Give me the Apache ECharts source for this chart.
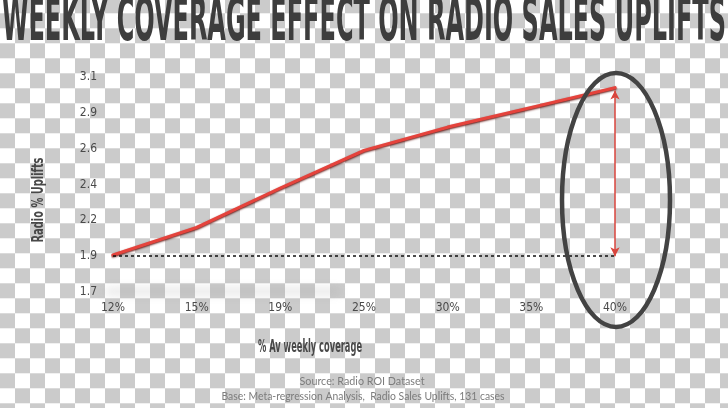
<!DOCTYPE html>
<html>
<head>
<meta charset="utf-8">
<script src="https://cdn.jsdelivr.net/npm/echarts@6/dist/echarts.min.js"></script>
<style>
html,body{margin:0;padding:0;width:728px;height:408px;overflow:hidden;}
body{
  background-color:#ffffff;
  background-image:repeating-conic-gradient(#ffffff 0 25%, #cbcbcb 0 50%);
  background-size:30px 30px;
  background-position:0px 13.3px;
}
#chart{width:728px;height:408px;}
</style>
</head>
<body>
<div id="chart"></div>
<script>
// ---- data ----
var titleText = 'WEEKLY COVERAGE EFFECT ON RADIO SALES UPLIFTS';
var xCategories = ['12%', '15%', '19%', '25%', '30%', '35%', '40%'];
var yTickLabels = [1.7, 1.9, 2.2, 2.4, 2.6, 2.9, 3.1];
var upliftValues = [1.91, 2.14, 2.38, 2.59, 2.78, 2.93, 3.04];
var baselineValue = 1.9;
var xAxisName = '% Av weekly coverage';
var yAxisName = 'Radio % Uplifts';
var sourceLine1 = 'Source: Radio ROI Dataset';
var sourceLine2 = 'Base: Meta-regression Analysis,  Radio Sales Uplifts, 131 cases';

// the y axis is drawn with evenly spaced tick labels; map a value onto that tick scale
function toTickScale(v) {
  for (var i = 0; i < yTickLabels.length - 1; i++) {
    var a = yTickLabels[i], b = yTickLabels[i + 1];
    if (v <= b || i === yTickLabels.length - 2) {
      return i + (v - a) / (b - a);
    }
  }
  return 0;
}

var narrow = "'Liberation Sans Narrow','DejaVu Sans Condensed',sans-serif";
var cond = "'DejaVu Sans Condensed','Liberation Sans Narrow',sans-serif";

var mctx = document.createElement('canvas').getContext('2d');
function measure(text, font) { mctx.font = font; return mctx.measureText(text).width; }

var chart = echarts.init(document.getElementById('chart'), null, {renderer: 'canvas'});

var lineData = upliftValues.map(function (v) { return toTickScale(v); });
var base = toTickScale(baselineValue);
var lastCat = xCategories[xCategories.length - 1];

chart.setOption({
  backgroundColor: 'transparent',
  animation: false,
  grid: {left: 113, right: 113, top: 77, bottom: 116},
  xAxis: {
    type: 'category',
    data: xCategories,
    boundaryGap: false,
    axisLine: {show: false},
    axisTick: {show: false},
    splitLine: {show: false},
    axisLabel: {margin: 10, color: '#4a4a4a', fontSize: 12, fontFamily: narrow}
  },
  yAxis: {
    type: 'value',
    min: 0,
    max: 6,
    interval: 1,
    axisLine: {show: false},
    axisTick: {show: false},
    splitLine: {show: false},
    axisLabel: {
      margin: 16,
      color: '#4a4a4a', fontSize: 12, fontFamily: narrow,
      formatter: function (v) { return String(yTickLabels[Math.round(v)]); }
    }
  },
  series: [{
    type: 'line',
    data: lineData,
    symbol: 'none',
    lineStyle: {
      width: 3.2, color: '#e5433c', cap: 'round', join: 'round',
      shadowColor: 'rgba(90,10,5,0.9)', shadowBlur: 2, shadowOffsetY: 1
    },
    z: 3,
    markLine: {
      silent: true,
      label: {show: false},
      animation: false,
      data: [
        [
          {coord: [xCategories[0], base], symbol: 'none', lineStyle: {type: [3, 3], color: '#111', width: 1.5}},
          {coord: [lastCat, base], symbol: 'none'}
        ],
        [
          {coord: [lastCat, lineData[lineData.length - 1] - 0.08], symbol: 'arrow', symbolSize: [7, 9], lineStyle: {type: 'solid', color: '#d8453d', width: 1.5}},
          {coord: [lastCat, base], symbol: 'arrow', symbolSize: [7, 9]}
        ]
      ]
    }
  }]
});

// decorations and texts
var tFont = 'bold 60px ' + cond;
var tW = measure(titleText, tFont);
var yFont = 'bold 16px ' + cond;
var yW = measure(yAxisName, yFont);
var xFont = 'bold 18px ' + cond;
var xW = measure(xAxisName, xFont);
var sFont = '11.5px Lato, sans-serif';
var s1W = measure(sourceLine1, sFont);
var s2W = measure(sourceLine2, sFont);

var p40 = chart.convertToPixel({gridIndex: 0}, [lastCat, 3]);
var p12 = chart.convertToPixel({gridIndex: 0}, [xCategories[0], 0]);

chart.setOption({
  graphic: [
    {
      type: 'text', x: 364, y: 24, scaleX: 724 / tW, z: 10,
      style: {text: titleText, fontSize: 60, fontWeight: 'bold', fontFamily: cond, fill: '#3d3d3d', align: 'center', verticalAlign: 'middle'}
    },
    {
      type: 'text', x: 39, y: 200, rotation: Math.PI / 2, scaleX: 85 / yW, z: 10,
      style: {text: yAxisName, fontSize: 16, fontWeight: 'bold', fontFamily: cond, fill: '#484848', align: 'center', verticalAlign: 'middle'}
    },
    {
      type: 'text', x: 310, y: 347, scaleX: 104 / xW, z: 10,
      style: {text: xAxisName, fontSize: 18, fontWeight: 'bold', fontFamily: cond, fill: '#484848', align: 'center', verticalAlign: 'middle'}
    },
    {
      type: 'text', x: 362, y: 381, scaleX: 125 / s1W, z: 10,
      style: {text: sourceLine1, fontSize: 11.5, fontFamily: 'Lato, sans-serif', fill: '#7c7c7c', align: 'center', verticalAlign: 'middle'}
    },
    {
      type: 'text', x: 363, y: 396, scaleX: 283 / s2W, z: 10,
      style: {text: sourceLine2, fontSize: 11.5, fontFamily: 'Lato, sans-serif', fill: '#7c7c7c', align: 'center', verticalAlign: 'middle'}
    },
    {
      type: 'ellipse', z: 5,
      shape: {cx: p40[0] + 1, cy: 200, rx: 54, ry: 127},
      style: {fill: 'none', stroke: '#434343', lineWidth: 4.5}
    },
    {
      type: 'rect', z: 1,
      shape: {x: p12[0] - 8, y: 289 - 2000, width: 235, height: 5, r: 3},
      style: {fill: 'rgba(150,150,150,0.6)', shadowColor: 'rgba(150,150,150,0.55)', shadowBlur: 10, shadowOffsetY: 2000}
    }
  ]
});
</script>
</body>
</html>
